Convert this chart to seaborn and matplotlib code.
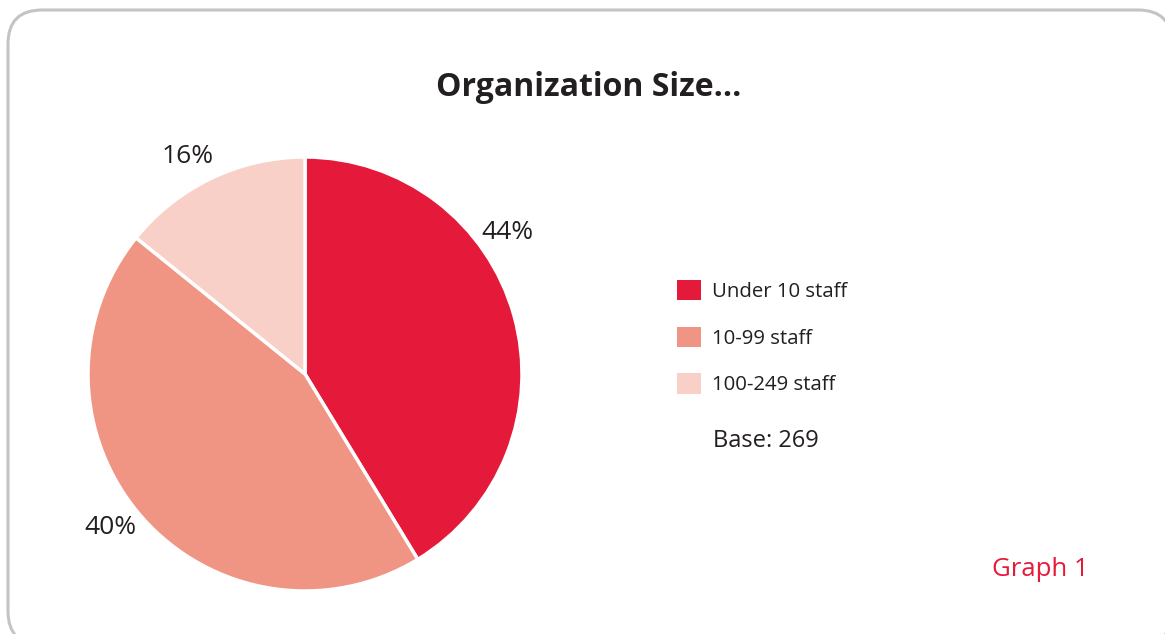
import matplotlib
matplotlib.use('Agg')
import matplotlib.pyplot as plt
from matplotlib.patches import FancyBboxPatch
import numpy as np
import seaborn as sns

sns.set_style('white')
plt.rcParams['font.family'] = ['Open Sans', 'DejaVu Sans']

# data
categories = ['Under 10 staff', '10-99 staff', '100-249 staff']
shares = [41.3, 44.5, 14.2]          # slice sizes as drawn
pct_labels = ['44%', '40%', '16%']    # printed labels
colors = ['#e5193a', '#f09583', '#f8d0c7']
base_n = 269

W, H = 1165, 634
fig = plt.figure(figsize=(W / 100, H / 100), dpi=100)
fig.patch.set_facecolor('white')

# rounded frame (in inches), running off the right and bottom edges;
# filled white so Agg doesn't clip the outline oddly at the canvas edge
frame = FancyBboxPatch((0.08, -0.11), 11.64, 6.35,
                       boxstyle='round,pad=0,rounding_size=0.34',
                       transform=fig.dpi_scale_trans, facecolor='white',
                       edgecolor='#c4c4c6', linewidth=2.2, zorder=-1)
fig.patches.append(frame)

cx, cy, r = 305, 374, 217
ax = fig.add_axes([(cx - r) / W, (H - cy - r) / H, 2 * r / W, 2 * r / H])
ax.patch.set_alpha(0)
wedges, texts = ax.pie(shares, colors=colors, startangle=90, counterclock=False,
                       labels=pct_labels, labeldistance=1.14,
                       wedgeprops=dict(edgecolor='white', linewidth=2.5),
                       textprops=dict(fontsize=19, color='#231f20'))
ax.set_xlim(-1, 1)
ax.set_ylim(-1, 1)
ax.set_aspect('equal')
ax.axis('off')

# label angles (clockwise from 12 o'clock) as placed in the original
label_angles = [55, 231.7, 331.7]
for t, ang in zip(texts, label_angles):
    a = np.deg2rad(90 - ang)
    t.set_position((1.14 * np.cos(a), 1.14 * np.sin(a)))
    t.set_ha('center')
    t.set_va('center')
    t.set_clip_on(False)

fig.text(589 / W, 1 - 88 / H, 'Organization Size...', ha='center', va='center',
         fontsize=23, fontweight='bold', color='#231f20')

leg = fig.legend(wedges, categories, loc='upper left',
                 bbox_to_anchor=(674 / W, 1 - 277 / H), frameon=False,
                 fontsize=14.7, handlelength=1.16, handleheight=1.16,
                 labelspacing=1.2, handletextpad=0.55, borderpad=0.15,
                 borderaxespad=0)
for txt in leg.get_texts():
    txt.set_color('#231f20')
for h in leg.legend_handles:
    h.set_edgecolor('none')

fig.text(713 / W, 1 - 441 / H, f'Base: {base_n}', ha='left', va='center',
         fontsize=17, color='#231f20')
fig.text(1040 / W, 1 - 569 / H, 'Graph 1', ha='center', va='center',
         fontsize=18.5, color='#e5193a')

fig.savefig('out.png', dpi=100)
